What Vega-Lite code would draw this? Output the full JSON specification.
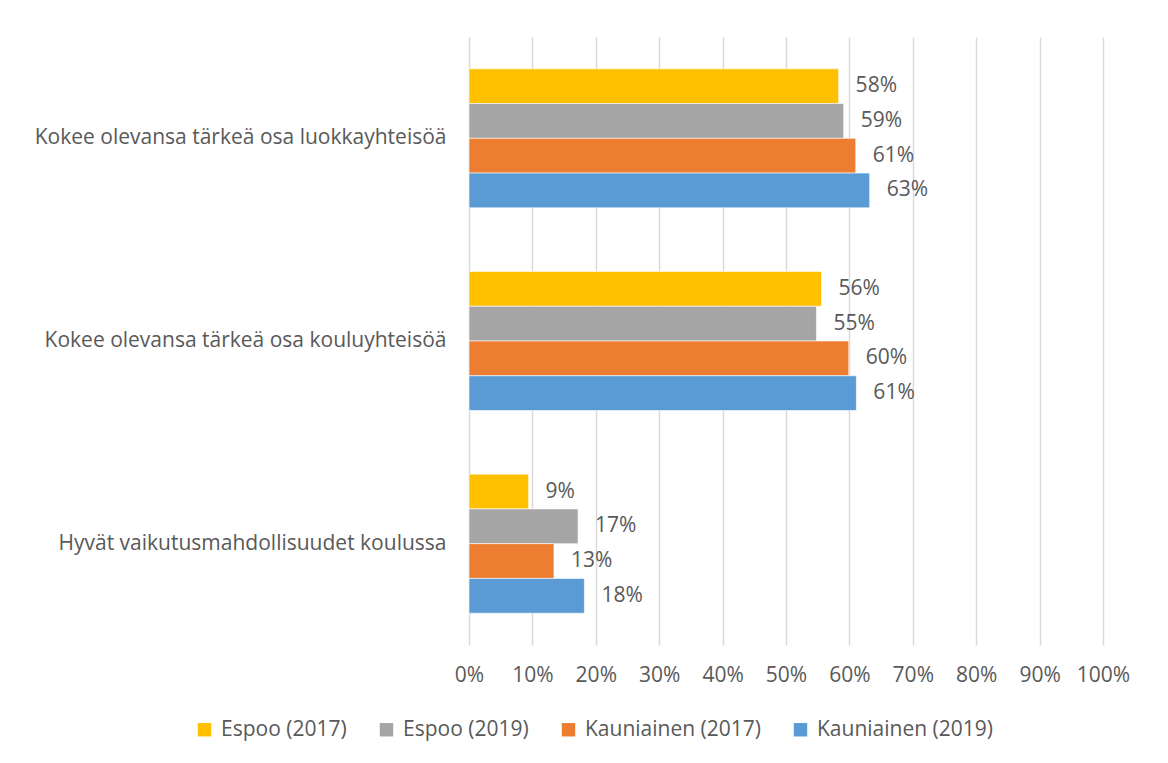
{
  "$schema": "https://vega.github.io/schema/vega-lite/v6.json",
  "autosize": "none",
  "width": 634,
  "height": 608,
  "padding": {"left": 469, "top": 37, "right": 65, "bottom": 118},
  "background": "#ffffff",
  "config": {
    "view": {"stroke": null},
    "font": "Open Sans",
    "text": {"font": "Open Sans"}
  },
  "data": {
    "values": [
      {"cat": "Kokee olevansa tärkeä osa luokkayhteisöä", "series": "Espoo (2017)", "value": 0.583},
      {"cat": "Kokee olevansa tärkeä osa luokkayhteisöä", "series": "Espoo (2019)", "value": 0.591},
      {"cat": "Kokee olevansa tärkeä osa luokkayhteisöä", "series": "Kauniainen (2017)", "value": 0.610},
      {"cat": "Kokee olevansa tärkeä osa luokkayhteisöä", "series": "Kauniainen (2019)", "value": 0.632},
      {"cat": "Kokee olevansa tärkeä osa kouluyhteisöä", "series": "Espoo (2017)", "value": 0.556},
      {"cat": "Kokee olevansa tärkeä osa kouluyhteisöä", "series": "Espoo (2019)", "value": 0.548},
      {"cat": "Kokee olevansa tärkeä osa kouluyhteisöä", "series": "Kauniainen (2017)", "value": 0.599},
      {"cat": "Kokee olevansa tärkeä osa kouluyhteisöä", "series": "Kauniainen (2019)", "value": 0.611},
      {"cat": "Hyvät vaikutusmahdollisuudet koulussa", "series": "Espoo (2017)", "value": 0.094},
      {"cat": "Hyvät vaikutusmahdollisuudet koulussa", "series": "Espoo (2019)", "value": 0.172},
      {"cat": "Hyvät vaikutusmahdollisuudet koulussa", "series": "Kauniainen (2017)", "value": 0.134},
      {"cat": "Hyvät vaikutusmahdollisuudet koulussa", "series": "Kauniainen (2019)", "value": 0.182}
    ]
  },
  "encoding": {
    "y": {
      "field": "cat",
      "type": "nominal",
      "sort": null,
      "scale": {"paddingInner": 0.314, "paddingOuter": 0.157},
      "axis": {
        "title": null,
        "domain": false,
        "ticks": false,
        "grid": false,
        "labelFontSize": 21,
        "labelFont": "Open Sans",
        "labelColor": "#595959",
        "labelPadding": 23,
        "labelLimit": 500
      }
    },
    "yOffset": {
      "field": "series",
      "type": "nominal",
      "sort": ["Espoo (2017)", "Espoo (2019)", "Kauniainen (2017)", "Kauniainen (2019)"],
      "scale": {"paddingInner": 0, "paddingOuter": 0}
    },
    "x": {
      "field": "value",
      "type": "quantitative",
      "scale": {"domain": [0, 1], "nice": false},
      "axis": {
        "title": null,
        "format": ".0%",
        "values": [0, 0.1, 0.2, 0.3, 0.4, 0.5, 0.6, 0.7, 0.8, 0.9, 1],
        "domain": false,
        "ticks": false,
        "grid": true,
        "gridColor": "#d9d9d9",
        "gridWidth": 1.5,
        "labelFontSize": 21,
        "labelFont": "Open Sans",
        "labelColor": "#595959",
        "labelPadding": 19,
        "labelFlush": false
      }
    }
  },
  "layer": [
    {
      "mark": {"type": "bar", "stroke": "#ffffff", "strokeWidth": 0.6},
      "encoding": {
        "color": {
          "field": "series",
          "type": "nominal",
          "sort": ["Espoo (2017)", "Espoo (2019)", "Kauniainen (2017)", "Kauniainen (2019)"],
          "scale": {
            "domain": ["Espoo (2017)", "Espoo (2019)", "Kauniainen (2017)", "Kauniainen (2019)"],
            "range": ["#FFC000", "#A5A5A5", "#ED7D31", "#5B9BD5"]
          },
          "legend": {
            "title": null,
            "orient": "none",
            "direction": "horizontal",
            "legendX": -275,
            "legendY": 682,
            "symbolType": "square",
            "symbolSize": 180,
            "symbolStrokeWidth": 0,
            "symbolOpacity": 1,
            "labelFontSize": 21,
            "labelFont": "Open Sans",
            "labelColor": "#595959",
            "labelOffset": 6,
            "columnPadding": 29,
            "labelLimit": 400
          }
        }
      }
    },
    {
      "mark": {"type": "text", "align": "left", "baseline": "middle", "dx": 17, "fontSize": 21, "font": "Open Sans", "color": "#595959"},
      "encoding": {
        "text": {"field": "value", "type": "quantitative", "format": ".0%"}
      }
    }
  ]
}
